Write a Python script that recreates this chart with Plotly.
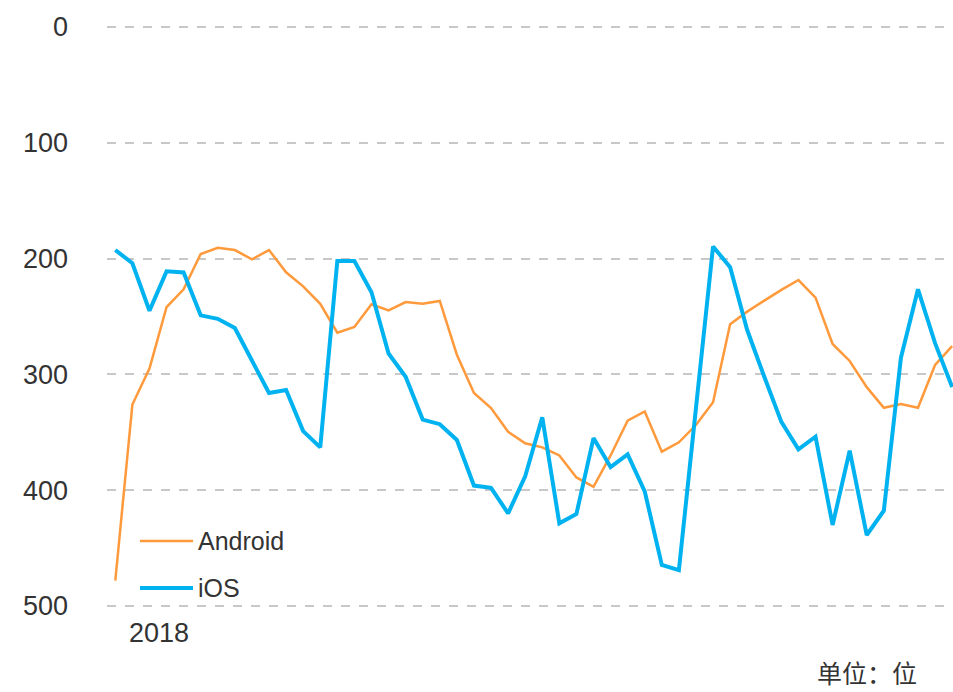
import plotly.graph_objects as go

weeks = list(range(50))
android = [478, 326, 295, 242, 226.5, 196, 190.6, 192.6, 200.6, 192.6,
           211.8, 224, 239, 264, 259, 239.5, 244.7, 237.5, 239, 236.6,
           283, 316, 329, 349.5, 359.5, 363, 370, 389, 397, 370,
           340, 332, 366.7, 358.6, 343.7, 324, 256.7, 245.8, 236.3, 227,
           218.5, 233.7, 273.7, 288.4, 311, 328.8, 325.6, 328.8, 291.9, 275.5]
ios = [192.6, 204, 245, 211, 212, 249, 252, 260, 288, 316,
       313.5, 349, 363, 202, 202, 229, 282, 302, 339, 343,
       356.6, 396, 398, 420, 388, 337, 428.6, 420.5, 355, 380,
       369, 401, 464.6, 469, 329, 189.5, 207.5, 261.7, 302, 341,
       364.7, 353.8, 430, 365.9, 438.7, 417.7, 285.6, 226.5, 273, 311]
y_ticks = [0, 100, 200, 300, 400, 500]
x_tick_pos = [2.56]
x_tick_text = ["2018"]
series_names = ["Android", "iOS"]
colors = ["#FF9A3C", "#00B2F0"]
widths = [2.5, 4]

W, H = 953, 692
ML, MR, MT, MB = 107, 0, 24, 80
PW, PH = W - ML - MR, H - MT - MB

def px_to_paper(x, y):
    return (x - ML) / PW, (H - MB - y) / PH

fig = go.Figure()
for name, vals, c, w in zip(series_names, [android, ios], colors, widths):
    fig.add_trace(go.Scatter(x=weeks, y=vals, mode="lines", name=name,
                             line=dict(color=c, width=w), showlegend=False))

font_fam = "Liberation Sans, Arial, sans-serif"
# manual legend
leg_y = [541, 588]
for name, c, w, ly in zip(series_names, colors, widths, leg_y):
    x0, y0 = px_to_paper(140, ly)
    x1, _ = px_to_paper(193, ly)
    fig.add_shape(type="line", xref="paper", yref="paper", x0=x0, x1=x1, y0=y0, y1=y0,
                  line=dict(color=c, width=w))
    tx, ty = px_to_paper(196, ly)
    fig.add_annotation(xref="paper", yref="paper", x=tx, y=ty, text=name, showarrow=False,
                       xanchor="left", yanchor="middle",
                       font=dict(family=font_fam, size=25, color="#333333"))

ux, uy = px_to_paper(867, 691)
fig.add_annotation(xref="paper", yref="paper", x=ux, y=uy, text="单位：位", showarrow=False,
                   xanchor="center", yanchor="bottom", borderpad=0,
                   font=dict(family="Noto Sans CJK SC", size=25, color="#333333"))

fig.update_layout(
    width=W, height=H,
    margin=dict(l=ML, r=MR, t=MT, b=MB),
    plot_bgcolor="white", paper_bgcolor="white",
    xaxis=dict(range=[-0.486, 49.05], showgrid=False, zeroline=False, showline=False,
               tickvals=x_tick_pos, ticktext=x_tick_text, ticks="",
               ticklabelstandoff=2,
               tickfont=dict(family=font_fam, size=27, color="#333333")),
    yaxis=dict(range=[505.18, -2.59], tickvals=y_ticks, showgrid=True,
               gridcolor="#C8C8C8", griddash="dash", gridwidth=1.5,
               zeroline=False, showline=False, ticks="",
               ticklabelstandoff=38,
               tickfont=dict(family=font_fam, size=27, color="#333333")),
)

fig.write_html("out.html", config={"displayModeBar": False},
               post_script="document.body.style.margin='0';document.body.style.overflow='hidden';")
